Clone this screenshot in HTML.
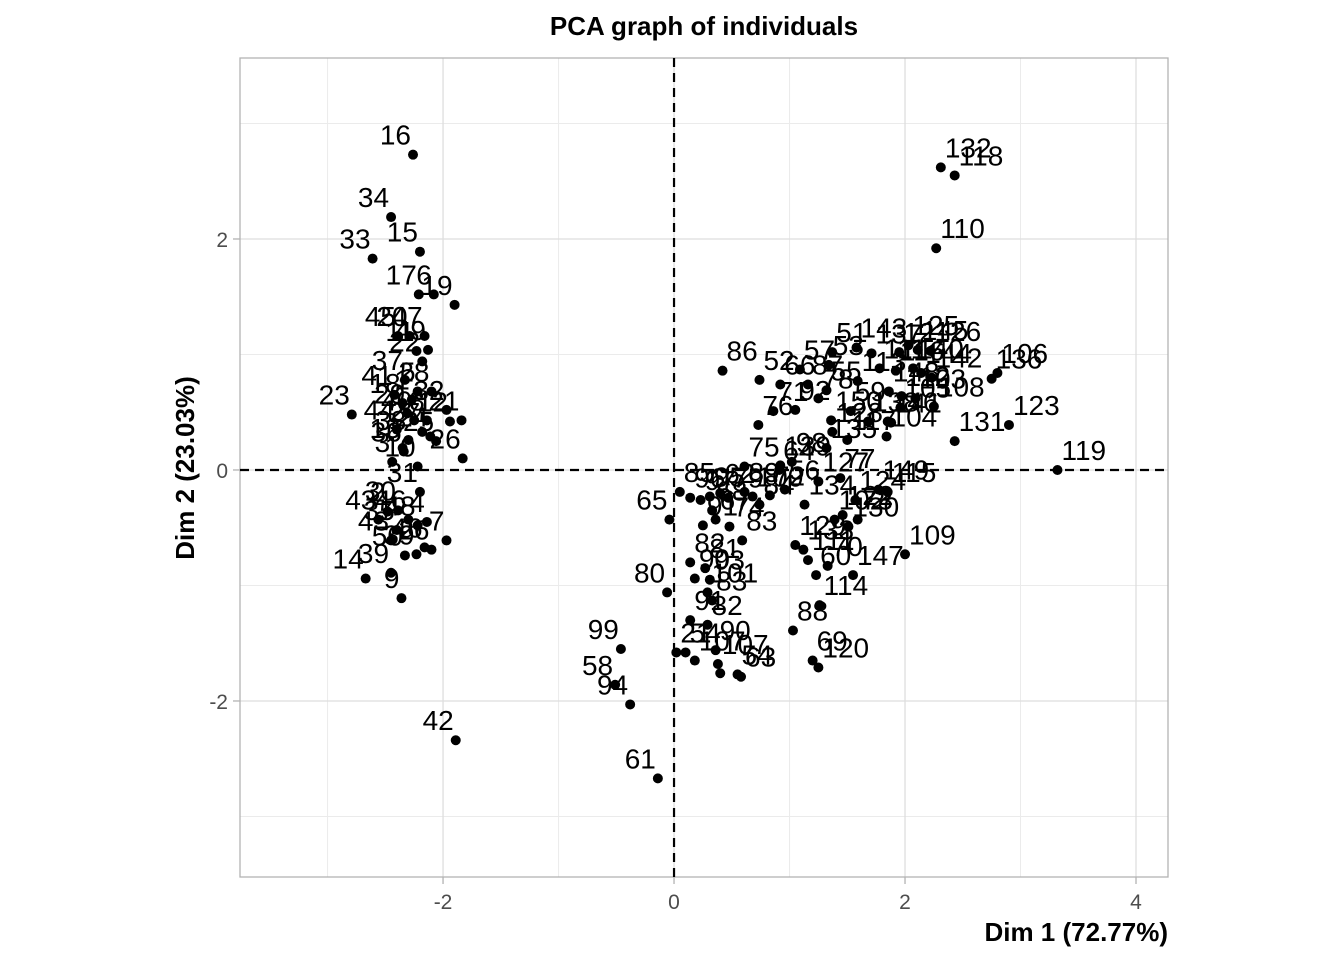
<!DOCTYPE html>
<html><head><meta charset="utf-8"><style>
html,body{margin:0;padding:0;background:#fff;}
svg{display:block;font-family:"Liberation Sans",Arial,sans-serif;}
</style></head><body>
<svg id="chart" width="1344" height="960">
<text x="704" y="35" text-anchor="middle" font-size="26" font-weight="bold">PCA graph of individuals</text>
<g id="plot"></g>
<text x="1168" y="941" text-anchor="end" font-size="26" font-weight="bold">Dim 1 (72.77%)</text>
<text transform="translate(194,468) rotate(-90)" text-anchor="middle" font-size="26" font-weight="bold">Dim 2 (23.03%)</text>
</svg>
<script>
const dim1 = [-2.26,-2.45,-2.61,-2.20,-2.21,-2.08,-1.90,-2.16,-2.29,-2.39,-2.23,-2.13,-2.18,-2.33,-2.22,-2.10,-2.42,-2.35,-2.27,-2.79,-1.97,-1.84,-1.94,-2.31,-2.25,-2.14,-2.40,-2.18,-2.11,-2.30,-2.35,-2.06,-2.44,-2.22,-1.83,-2.34,-2.20,-2.39,-2.48,-2.56,-2.30,-2.22,-2.40,-2.14,-1.97,-2.10,-2.23,-2.33,-2.45,-2.67,-2.36,-2.16,-2.45,-1.89,
2.31,2.43,2.27,3.32,2.90,2.80,2.75,2.43,0.42,-0.14,-0.38,-0.51,-0.46,-0.04,-0.06,2.00,1.55,1.26,1.03,1.20,1.25,0.38,0.55,0.58,
1.37,1.58,1.71,1.95,2.03,2.11,2.22,1.78,1.92,2.07,2.14,2.23,1.34,1.09,0.74,0.92,1.16,1.25,1.32,1.59,1.86,1.97,2.09,2.25,1.85,1.96,1.53,1.68,1.50,1.84,0.86,0.73,1.05,1.36,1.37,0.61,0.92,1.02,0.91,1.32,1.88,
0.05,0.14,0.23,0.31,0.33,0.40,0.47,0.61,0.68,0.74,0.83,0.96,1.13,1.25,1.44,1.57,1.77,1.85,1.46,1.39,1.59,1.51,0.36,0.25,0.48,0.59,1.05,1.12,1.16,1.33,1.23,0.14,0.27,0.31,0.29,0.18,0.33,0.14,0.29,0.36,0.02,0.10,0.18,0.40];
const dim2 = [2.73,2.19,1.83,1.89,1.52,1.52,1.43,1.16,1.16,1.16,1.03,1.04,0.94,0.78,0.68,0.68,0.65,0.58,0.61,0.48,0.52,0.43,0.42,0.49,0.43,0.43,0.35,0.33,0.29,0.26,0.19,0.25,0.07,0.03,0.10,0.16,-0.19,-0.35,-0.36,-0.43,-0.43,-0.48,-0.52,-0.45,-0.61,-0.69,-0.73,-0.74,-0.89,-0.94,-1.11,-0.67,-0.61,-2.34,
2.62,2.55,1.92,0.00,0.39,0.84,0.79,0.25,0.86,-2.67,-2.03,-1.86,-1.55,-0.43,-1.06,-0.73,-0.91,-1.17,-1.39,-1.65,-1.71,-1.68,-1.77,-1.79,
1.02,1.06,1.01,1.02,1.08,1.04,1.03,0.88,0.86,0.88,0.84,0.80,0.91,0.87,0.78,0.74,0.74,0.62,0.69,0.77,0.68,0.64,0.62,0.55,0.42,0.54,0.51,0.42,0.26,0.29,0.51,0.39,0.52,0.43,0.33,0.03,0.04,0.07,0.00,0.19,0.41,
-0.19,-0.24,-0.26,-0.23,-0.35,-0.20,-0.24,-0.19,-0.23,-0.30,-0.22,-0.17,-0.30,-0.10,-0.07,-0.26,-0.17,-0.19,-0.39,-0.43,-0.43,-0.49,-0.43,-0.48,-0.49,-0.61,-0.65,-0.69,-0.78,-0.83,-0.91,-0.80,-0.85,-0.95,-1.06,-0.94,-1.13,-1.30,-1.34,-1.56,-1.58,-1.58,-1.65,-1.76];
const labels = ["16","34","33","15","17","6","19","47","20","45","11","49","22","37","5","28","41","18","1","23","32","21","12","29","40","8","44","27","24","38","13","25","3","10","26","36","31","30","2","43","46","48","35","4","7","26","39","50","39","14","9","46","43","42",
"132","118","110","119","123","106","136","131","86","61","94","58","99","65","80","109","147","114","88","69","120","107","54","63",
"51","143","137","121","125","145","126","111","116","140","144","142","53","57","52","66","87","78","55","113","148","112","103","108","146","105","59","138","117","104","71","76","92","150","128","75","139","98","64","135","141",
"85","96","97","95","68","62","79","89","100","84","72","56","134","127","77","124","149","115","122","102","73","130","67","91","74","83","129","133","111","70","60","82","81","93","101","90","83","91","82","90","21","54","107"];
const xTicks = [-2,0,2,4];
const yTicks = [-2,0,2];
const xMinor = [-3,-1,1,3];
const yMinor = [-3,-1,1,3];

const L=240,R=1168,T=58,B=877;
const xMin=-3.758,xMax=4.277,yMin=-3.524,yMax=3.567;
const sx=v=>L+(v-xMin)/(xMax-xMin)*(R-L);
const sy=v=>B-(v-yMin)/(yMax-yMin)*(B-T);
const NS="http://www.w3.org/2000/svg";
const g=document.getElementById('plot');
function mk(tag,attrs){const e=document.createElementNS(NS,tag);for(const k in attrs)e.setAttribute(k,attrs[k]);g.appendChild(e);return e;}

xMinor.forEach(v=>{const e=mk('line',{x1:sx(v),x2:sx(v),y1:T,y2:B,stroke:'#ebebeb','stroke-width':1});

});
yMinor.forEach(v=>{const e=mk('line',{x1:L,x2:R,y1:sy(v),y2:sy(v),stroke:'#ebebeb','stroke-width':1});

});
xTicks.forEach(v=>{const e=mk('line',{x1:sx(v),x2:sx(v),y1:T,y2:B,stroke:'#dedede','stroke-width':1.3});


const t=mk('line',{x1:sx(v),x2:sx(v),y1:B,y2:B+7,stroke:'#b3b3b3','stroke-width':1.3});


const l=mk('text',{x:sx(v),y:B+32,'text-anchor':'middle','font-size':21,fill:'#4d4d4d'});l.textContent=v;

});
yTicks.forEach(v=>{const e=mk('line',{x1:L,x2:R,y1:sy(v),y2:sy(v),stroke:'#dedede','stroke-width':1.3});


const t=mk('line',{x1:L-7,x2:L,y1:sy(v),y2:sy(v),stroke:'#b3b3b3','stroke-width':1.3});


const l=mk('text',{x:L-12,y:sy(v)+8,'text-anchor':'end','font-size':21,fill:'#4d4d4d'});l.textContent=v;

});
const fr=mk('rect',{x:L,y:T,width:R-L,height:B-T,fill:'none',stroke:'#b3b3b3','stroke-width':1.3});


const h0=mk('line',{x1:L,x2:R,y1:sy(0),y2:sy(0),stroke:'#000','stroke-width':2.2,'stroke-dasharray':'9,6'});


const v0=mk('line',{x1:sx(0),x2:sx(0),y1:T,y2:B,stroke:'#000','stroke-width':2.2,'stroke-dasharray':'9,6'});



dim1.forEach((v,i)=>{
  const px=sx(v),py=sy(dim2[i]);
  const c=mk('circle',{cx:px,cy:py,r:5,fill:'#000'});
  
  
  const left=v<0;
  const t=mk('text',{x:left?px-2:px+4,y:py-10,'text-anchor':left?'end':'start','font-size':28,fill:'#000'});
  t.textContent=labels[i]||'';
  
  
});
</script>
</body></html>
